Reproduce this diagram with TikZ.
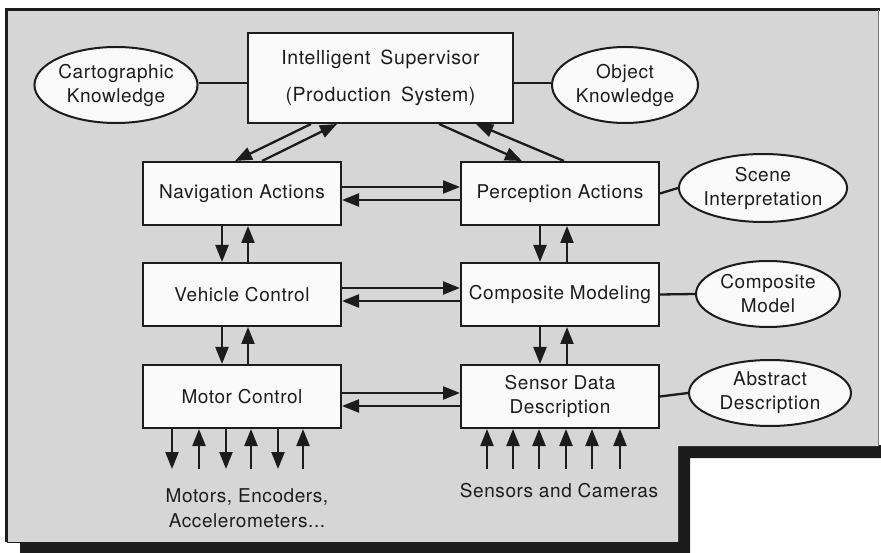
\documentclass[tikz,border=0pt]{standalone}
\usepackage{fontspec}
\setmainfont{TeX Gyre Heros}[LetterSpace=3]
\usetikzlibrary{arrows.meta,calc,shapes.geometric}
\definecolor{panel}{RGB}{214,214,214}
\definecolor{ink}{RGB}{28,28,28}
\definecolor{boxfill}{RGB}{250,250,250}
\begin{document}
\begin{tikzpicture}[x=1pt,y=-1pt,
  txt/.style={font=\fontsize{19}{24}\selectfont, text=ink},
  box/.style={txt, draw=ink, fill=boxfill, line width=2pt, minimum width=198pt,
    minimum height=63pt, inner sep=0pt, align=center},
  oval/.style={txt, ellipse, draw=ink, fill=boxfill, line width=2pt, inner sep=0pt, align=center},
  link/.style={draw=ink, line width=2.3pt},
  arr/.style={link, -{Triangle[length=17pt,width=13pt]}},
  lbl/.style={txt, align=center, inner sep=0pt}]

\useasboundingbox (0,0) rectangle (881,553);
\fill[white] (0,0) rectangle (881,553);

% panel with its drop shadow
\fill[ink] (678,445) -- (881,445) -- (881,458) -- (690,458) -- (690,553)
  -- (20,553) -- (20,543) -- (678,543) -- cycle;
\fill[panel] (7,10) -- (878,10) -- (878,446) -- (678,446) -- (678,542) -- (7,542) -- cycle;
\draw[ink, line width=3pt] (6.5,542) -- (6.5,10) -- (880,10);
\draw[ink, line width=1pt] (7,542) -- (678,542);
\draw[ink!60, line width=0.8pt] (878,10) -- (878,446);

% processing boxes
\node[box, minimum width=265pt, minimum height=90pt, font=\fontsize{19.5}{37}\selectfont] (sup) at (380.5,78)
  {Intelligent\hspace{4pt} Supervisor\\(Production\hspace{4pt} System)};
\node[box] (nav) at (242,193.5) {Navigation Actions};
\node[box] (per) at (560,193.5) {Perception Actions};
\node[box] (veh) at (242,294.5) {Vehicle Control};
\node[box] (com) at (560,294.5) {Composite Modeling};
\node[box] (mot) at (242,396.5) {Motor Control};
\node[box] (sen) at (560,396.5) {Sensor Data\\Description};

% knowledge bases
\node[oval, minimum width=160pt, minimum height=76pt] (cart) at (116,85) {Cartographic\\Knowledge};
\node[oval, minimum width=146pt, minimum height=76pt] (obj) at (625,85) {Object\\Knowledge};
\node[oval, minimum width=156pt, minimum height=68pt] (scene) at (763,188) {Scene\\Interpretation};
\node[oval, minimum width=144pt, minimum height=66pt] (cmod) at (768,294) {Composite\\Model};
\node[oval, minimum width=162pt, minimum height=66pt] (abs) at (770,393) {Abstract\\Description};

% plain links
\draw[link] (cart.east |- 0,83) -- (sup.west |- 0,83);
\draw[link] (obj.west |- 0,83) -- (sup.east |- 0,83);
\draw[link] (per.east) -- (scene.west);
\draw[link] (com.east) -- (cmod.west);
\draw[link] (sen.east) -- (abs.west);

% supervisor <-> action planners
\draw[arr] ($(sup.south west)+(64,0)$) -- ($(nav.north west)+(93,0)$);
\draw[arr] ($(nav.north west)+(120,0)$) -- ($(sup.south west)+(90,0)$);
\draw[arr] ($(sup.south west)+(192,0)$) -- ($(per.north west)+(62,0)$);
\draw[arr] ($(per.north west)+(104,0)$) -- ($(sup.south west)+(229,0)$);

% left column <-> right column
\draw[arr] ($(nav.east)+(0,-6.5)$) -- ($(per.west)+(0,-6.5)$);
\draw[arr] ($(per.west)+(0,6.5)$) -- ($(nav.east)+(0,6.5)$);
\draw[arr] ($(veh.east)+(0,-6.5)$) -- ($(com.west)+(0,-6.5)$);
\draw[arr] ($(com.west)+(0,6.5)$) -- ($(veh.east)+(0,6.5)$);
\draw[arr] ($(mot.east)+(0,-3.5)$) -- ($(sen.west)+(0,-3.5)$);
\draw[arr] ($(sen.west)+(0,9.5)$) -- ($(mot.east)+(0,9.5)$);

% vertical links inside each column
\draw[arr] ($(nav.south)+(-20,0)$) -- ($(veh.north)+(-20,0)$);
\draw[arr] ($(veh.north)+(6,0)$) -- ($(nav.south)+(6,0)$);
\draw[arr] ($(veh.south)+(-20,0)$) -- ($(mot.north)+(-20,0)$);
\draw[arr] ($(mot.north)+(6,0)$) -- ($(veh.south)+(6,0)$);
\draw[arr] ($(per.south)+(-20,0)$) -- ($(com.north)+(-20,0)$);
\draw[arr] ($(com.north)+(7,0)$) -- ($(per.south)+(7,0)$);
\draw[arr] ($(com.south)+(-20,0)$) -- ($(sen.north)+(-20,0)$);
\draw[arr] ($(sen.north)+(7,0)$) -- ($(com.south)+(7,0)$);

% hardware interfaces: actuator commands out, encoder readings in
\foreach \dx in {30,57,84,109,136,161}{
  \coordinate (hw\dx) at ($(mot.south west)+(\dx,40)$);
  \coordinate (mp\dx) at ($(mot.south west)+(\dx,0)$);
}
\draw[arr] (mp30) -- (hw30);
\draw[arr] (hw57) -- (mp57);
\draw[arr] (mp84) -- (hw84);
\draw[arr] (hw109) -- (mp109);
\draw[arr] (mp136) -- (hw136);
\draw[arr] (hw161) -- (mp161);
\foreach \dx in {27,53,79,106,132,160}{
  \coordinate (sc\dx) at ($(sen.south west)+(\dx,40)$);
  \draw[arr] (sc\dx) -- ($(sen.south west)+(\dx,0)$);
}

\node[lbl, anchor=base] (motors) at (247,502) {Motors, Encoders,};
\node[lbl, anchor=base] (accel) at (247,527) {Accelerometers...};
\node[lbl, anchor=base] (sensors) at (559,497) {Sensors and Cameras};
\end{tikzpicture}
\end{document}
